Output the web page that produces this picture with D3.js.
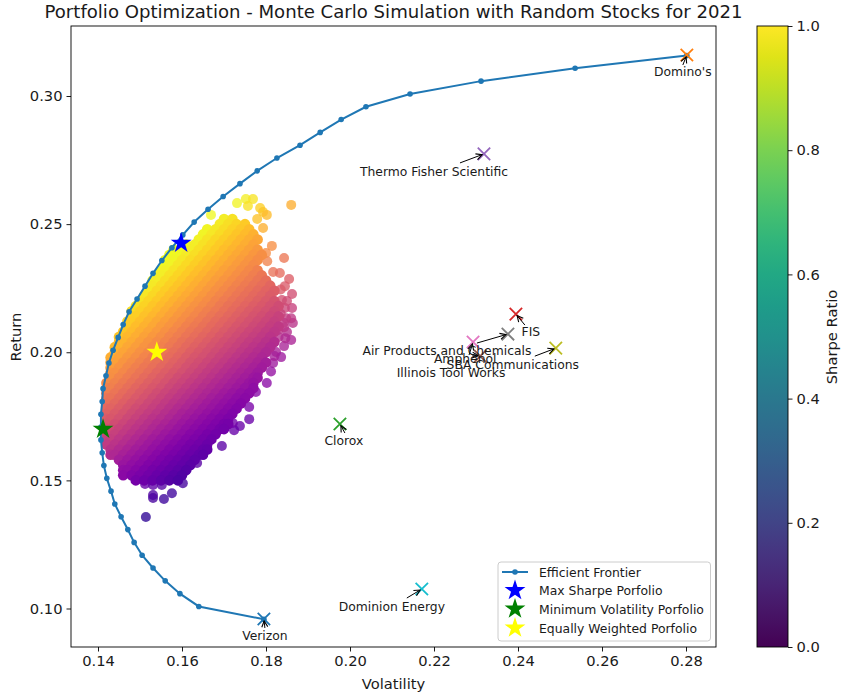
<!DOCTYPE html>
<html><head><meta charset="utf-8">
<script src="https://cdn.jsdelivr.net/npm/d3@7"></script>
<style>html,body{margin:0;padding:0;background:#fff}svg{display:block}text{font-family:"DejaVu Sans",sans-serif;fill:#1a1a1a}</style>
</head><body><div id="c"></div>
<script>
// ---------- data ----------
const frontierVol=[.1795,.1640,.1595,.1560,.1531,.1505,.1486,.1471,.1455,.1440,.1431,.1421,.1414,.1410,.1407,.1407,.1407,.1410,.1412,.1419,.1426,.1436,.1448,.1460,.1474,.1493,.1512,.1531,.1552,.1576,.1602,.1629,.1662,.1698,.1738,.1779,.1826,.1881,.1929,.1979,.2038,.2143,.2312,.2536,.2802];
const frontierRet=[.0958,.1008,.1058,.1108,.1158,.1208,.1258,.1308,.1358,.1408,.1458,.1508,.1558,.1608,.1658,.1708,.1758,.1808,.1858,.1908,.1958,.2008,.2058,.2108,.2158,.2208,.2258,.2308,.2358,.2408,.2458,.2508,.2558,.2608,.2658,.2708,.2758,.2808,.2858,.2908,.2958,.3008,.3058,.3108,.3158];
const stockNames=["Verizon","Domino's","Clorox","FIS","Thermo Fisher Scientific","Amphenol","Illinois Tool Works","Air Products and Chemicals","SBA Communications","Dominion Energy"];
const stockVol=[.1795,.2802,.1976,.2395,.2319,.2310,.2293,.2376,.2490,.2171];
const stockRet=[.0959,.3160,.1720,.2149,.2774,.1985,.2040,.2071,.2016,.1076];
const specialNames=["Max Sharpe Porfolio","Minimum Volatility Porfolio","Equally Weighted Porfolio"];
const specialVol=[.1598,.1412,.1540];
const specialRet=[.2426,.1700,.2000];
const frontierName="Efficient Frontier";
const xTicks=[.14,.16,.18,.20,.22,.24,.26,.28];
const yTicks=[.10,.15,.20,.25,.30];
const cbarTicks=[0,.2,.4,.6,.8,1];
// simulated portfolios: return of each row, with the volatilities (in thousandths) seen on it
const cloudRet=[.252,.250,.248,.246,.244,.242,.240,.238,.236,.234,.232,.230,.228,.226,.224,.222,.220,.218,.216,.214,.212,.210,.208,.206,.204,.202,.200,.198,.196,.194,.192,.190,.188,.186,.184,.182,.180,.178,.176,.174,.172,.170,.168,.166,.164,.162,.160,.158,.156,.154,.152,.150];
const cloudVolMilli=[
[170,172],
[169,171,173,175],
[166,168,170,172,174,176],
[165,167,169,171,173,175,177],
[164,166,168,170,172,174,176,178],
[161,163,165,167,169,171,173,175,177],
[158,160,162,164,166,168,170,172,174,176,178],
[157,159,161,163,165,167,169,171,173,175,177,179],
[156,158,160,162,164,166,168,170,172,174,176,178],
[156,157,159,161,163,165,167,169,171,173,175,177],
[155,156,158,160,162,164,166,168,170,172,174,176,178],
[154,155,157,159,161,163,165,167,169,171,173,175,177,179],
[153,154,156,158,160,162,164,166,168,170,172,174,176,178,180],
[153,155,157,159,161,163,165,167,169,171,173,175,177,179,181],
[152,154,156,158,160,162,164,166,168,170,172,174,176,178,180,182],
[151,153,155,157,159,161,163,165,167,169,171,173,175,177,179,181],
[150,152,154,156,158,160,162,164,166,168,170,172,174,176,178,180,182],
[149,151,153,155,157,159,161,163,165,167,169,171,173,175,177,179,181,183],
[148,150,152,154,156,158,160,162,164,166,168,170,172,174,176,178,180,182],
[148,149,151,153,155,157,159,161,163,165,167,169,171,173,175,177,179,181,183],
[147,148,150,152,154,156,158,160,162,164,166,168,170,172,174,176,178,180,182],
[147,149,151,153,155,157,159,161,163,165,167,169,171,173,175,177,179,181,183],
[146,148,150,152,154,156,158,160,162,164,166,168,170,172,174,176,178,180,182],
[145,147,149,151,153,155,157,159,161,163,165,167,169,171,173,175,177,179,181],
[145,146,148,150,152,154,156,158,160,162,164,166,168,170,172,174,176,178,180,182],
[144,145,147,149,151,153,155,157,159,161,163,165,167,169,171,173,175,177,179,181],
[144,146,148,150,152,154,156,158,160,162,164,166,168,170,172,174,176,178,180],
[143,145,147,149,151,153,155,157,159,161,163,165,167,169,171,173,175,177,179],
[143,144,146,148,150,152,154,156,158,160,162,164,166,168,170,172,174,176,178,180],
[143,145,147,149,151,153,155,157,159,161,163,165,167,169,171,173,175,177,179],
[143,144,146,148,150,152,154,156,158,160,162,164,166,168,170,172,174,176,178],
[143,145,147,149,151,153,155,157,159,161,163,165,167,169,171,173,175,177,178],
[142,144,146,148,150,152,154,156,158,160,162,164,166,168,170,172,174,176,177],
[142,143,145,147,149,151,153,155,157,159,161,163,165,167,169,171,173,175,177],
[142,144,146,148,150,152,154,156,158,160,162,164,166,168,170,172,174,176],
[142,143,145,147,149,151,153,155,157,159,161,163,165,167,169,171,173,175],
[142,144,146,148,150,152,154,156,158,160,162,164,166,168,170,172,174],
[142,143,145,147,149,151,153,155,157,159,161,163,165,167,169,171,173],
[142,144,146,148,150,152,154,156,158,160,162,164,166,168,170,172],
[142,143,145,147,149,151,153,155,157,159,161,163,165,167,169,171],
[142,144,146,148,150,152,154,156,158,160,162,164,166,168,170,171],
[142,143,145,147,149,151,153,155,157,159,161,163,165,167,169,170],
[142,144,146,148,150,152,154,156,158,160,162,164,166,168],
[142,143,145,147,149,151,153,155,157,159,161,163,165,167],
[142,144,146,148,150,152,154,156,158,160,162,164,166],
[143,145,147,149,151,153,155,157,159,161,163,165,166],
[143,144,146,148,150,152,154,156,158,160,162,164,165],
[145,147,149,151,153,155,157,159,161,163],
[146,148,150,152,154,156,158,160,162],
[146,147,149,151,153,155,157,159,161],
[146,148,150,152,154,156,158,160],
[149,151,153,155,157,159]
];
// the scattered portfolios around the dense body
const outlierVol=[.1860,.1731,.1752,.1769,.1757,.1786,.1793,.1802,.1669,.1779,.1793,.1814,.1800,.1843,.1817,.1833,.1855,.1862,.1862,.1864,.1514,.1531,.1557,.1576,.1531,.1552,.1512,.1531,.1602,.1636,.1695,.1660,.1760,.1738,.1724,.1721,.1802,.1776,.1760,.1845,.1838,.1845,.1860,.1850,.1860,.1843,.1824,.1836,.1817,.1829,.1848,.1843,.1803,.1835,.1850,.1835,.1842,.1830,.1846,.1820,.1812];
const outlierRet=[.2575,.2582,.2598,.2598,.2571,.2563,.2547,.2536,.2536,.2520,.2485,.2415,.2387,.2368,.2313,.2309,.2286,.2227,.2173,.2114,.1357,.1431,.1427,.1450,.1443,.1482,.1486,.1482,.1489,.1568,.1634,.1626,.1739,.1712,.1696,.1724,.1880,.1845,.1786,.2258,.2204,.2173,.2133,.2079,.2048,.2024,.2001,.1981,.1958,.2087,.2133,.2098,.2355,.2245,.2200,.2150,.2115,.2060,.2055,.1985,.1925];

// ---------- layout ----------
const W=842,H=697,L=71,R=716,T=26,B=647,cbL=757,cbR=788;
const stockColors=["#1f77b4","#ff7f0e","#2ca02c","#d62728","#9467bd","#8c564b","#e377c2","#7f7f7f","#bcbd22","#17becf"];
const specialColors=["#0000ff","#008000","#ffff00"];
const labelDx=[1,-4,4,15,-50,-15,-22,-61,-43,-30];
const labelDy=[17,17,17,18,18,3,31,17,17,18];
const arrowDx=[1,-4,5,9,-24,-8,-4,-31,-21,-15];
const arrowDy=[9,10,9,11,9,-1,13,9,8,9];

const x=d3.scaleLinear().domain([.14,.28]).range([98,686]);
const y=d3.scaleLinear().domain([.10,.30]).range([608.5,96]);
const cb=d3.scaleLinear().domain([0,1]).range([B,T]);
const sharpeColor=d3.scaleSequential(d3.interpolatePlasma).domain([.86,1.50]).clamp(true);

const svg=d3.select("#c").append("svg").attr("width",W).attr("height",H);
const defs=svg.append("defs");
defs.append("clipPath").attr("id","plot").append("rect").attr("x",L).attr("y",T).attr("width",R-L).attr("height",B-T);
defs.append("marker").attr("id","arrow").attr("viewBox","-8 -5 9 10").attr("refX",0).attr("refY",0)
  .attr("markerWidth",9).attr("markerHeight",10).attr("markerUnits","userSpaceOnUse").attr("orient","auto")
  .append("path").attr("d","M-6,-3L0,0L-6,3").attr("fill","none").attr("stroke","#000").attr("stroke-width",1.1);
const grad=defs.append("linearGradient").attr("id","vir").attr("x1",0).attr("x2",0).attr("y1",1).attr("y2",0);
d3.range(0,1.001,.05).forEach(t=>grad.append("stop").attr("offset",t).attr("stop-color",d3.interpolateViridis(t)));

const plot=svg.append("g").attr("clip-path","url(#plot)");

// cloud
const cloud=[];
cloudRet.forEach((r,i)=>cloudVolMilli[i].forEach(v=>cloud.push({v:v/1000,r})));
plot.append("g").selectAll("circle").data(outlierVol.map((v,i)=>({v,r:outlierRet[i]}))).join("circle")
  .attr("cx",d=>x(d.v)).attr("cy",d=>y(d.r)).attr("r",5)
  .attr("fill",d=>sharpeColor(d.r/d.v)).attr("opacity",.78);
plot.append("g").selectAll("circle").data(cloud).join("circle")
  .attr("cx",d=>x(d.v)).attr("cy",d=>y(d.r)).attr("r",5.3)
  .attr("fill",d=>sharpeColor(d.r/d.v));

// frontier
const line=d3.line().x((d,i)=>x(frontierVol[i])).y((d,i)=>y(frontierRet[i]));
plot.append("path").datum(frontierVol).attr("d",line).attr("fill","none").attr("stroke","#1f77b4").attr("stroke-width",2);
plot.append("g").selectAll("circle").data(frontierVol).join("circle")
  .attr("cx",(d,i)=>x(d)).attr("cy",(d,i)=>y(frontierRet[i])).attr("r",2.8).attr("fill","#1f77b4");

// stock crosses
svg.append("g").selectAll("path").data(stockVol).join("path")
  .attr("d",d3.symbol().type({draw(c){c.moveTo(-6.2,-6.2);c.lineTo(6.2,6.2);c.moveTo(-6.2,6.2);c.lineTo(6.2,-6.2);}}))
  .attr("transform",(d,i)=>`translate(${x(d)},${y(stockRet[i])})`)
  .attr("fill","none").attr("stroke",(d,i)=>stockColors[i]).attr("stroke-width",1.8);

// annotations
svg.append("g").selectAll("line").data(stockNames).join("line")
  .attr("x1",(d,i)=>x(stockVol[i])+arrowDx[i]).attr("y1",(d,i)=>y(stockRet[i])+arrowDy[i])
  .attr("x2",(d,i)=>{const h=Math.hypot(arrowDx[i],arrowDy[i]);return x(stockVol[i])+arrowDx[i]/h*2;})
  .attr("y2",(d,i)=>{const h=Math.hypot(arrowDx[i],arrowDy[i]);return y(stockRet[i])+arrowDy[i]/h*2;})
  .attr("stroke","#000").attr("stroke-width",1).attr("marker-end","url(#arrow)");
svg.append("g").selectAll("text").data(stockNames).join("text")
  .attr("x",(d,i)=>x(stockVol[i])+labelDx[i]).attr("y",(d,i)=>y(stockRet[i])+labelDy[i])
  .attr("text-anchor","middle").attr("dominant-baseline","central").attr("font-size",12.35).text(d=>d);

// stars
const star=d3.symbol().type(d3.symbolStar).size(135);
svg.append("g").selectAll("path").data(specialVol).join("path")
  .attr("d",star).attr("transform",(d,i)=>`translate(${x(d)},${y(specialRet[i])})`)
  .attr("fill",(d,i)=>specialColors[i]);

// frame + axes
svg.append("rect").attr("x",L).attr("y",T).attr("width",R-L).attr("height",B-T).attr("fill","none").attr("stroke","#000").attr("stroke-width",.9);
const fmt2=d3.format(".2f");
const ax=svg.append("g").attr("transform",`translate(0,${B})`).call(d3.axisBottom(x).tickValues(xTicks).tickFormat(fmt2).tickSize(4.5).tickPadding(4));
const ay=svg.append("g").attr("transform",`translate(${L},0)`).call(d3.axisLeft(y).tickValues(yTicks).tickFormat(fmt2).tickSize(4.5).tickPadding(4));
[ax,ay].forEach(a=>{a.select(".domain").remove();a.selectAll("text").attr("font-size",14.7).attr("font-family","DejaVu Sans").style("fill","#1a1a1a");a.selectAll("line").attr("stroke-width",.9);});

svg.append("text").attr("x",393.5).attr("y",18).attr("text-anchor","middle").attr("font-size",18.1).text("Portfolio Optimization - Monte Carlo Simulation with Random Stocks for 2021");
svg.append("text").attr("x",393.5).attr("y",689).attr("text-anchor","middle").attr("font-size",14.7).text("Volatility");
svg.append("text").attr("transform","translate(21,337) rotate(-90)").attr("text-anchor","middle").attr("font-size",14.7).text("Return");

// colorbar
svg.append("rect").attr("x",cbL).attr("y",T).attr("width",cbR-cbL).attr("height",B-T).attr("fill","url(#vir)").attr("stroke","#000").attr("stroke-width",.9);
const ac=svg.append("g").attr("transform",`translate(${cbR},0)`).call(d3.axisRight(cb).tickValues(cbarTicks).tickFormat(d3.format(".1f")).tickSize(4.5).tickPadding(4));
ac.select(".domain").remove();
ac.selectAll("text").attr("font-size",14.7).attr("font-family","DejaVu Sans").style("fill","#1a1a1a");
ac.selectAll("line").attr("stroke-width",.9);
svg.append("text").attr("transform","translate(837,337) rotate(-90)").attr("text-anchor","middle").attr("font-size",14.7).text("Sharpe Ratio");

// legend
const lg=svg.append("g");
lg.append("rect").attr("x",498).attr("y",562).attr("width",212.5).attr("height",79).attr("rx",3).attr("fill","#fff").attr("fill-opacity",.85).attr("stroke","#ccc").attr("stroke-width",1);
const rowY=[572,590.5,609,628];
[frontierName,...specialNames].forEach((n,i)=>lg.append("text").attr("x",539).attr("y",rowY[i]).attr("dominant-baseline","central").attr("font-size",12.4).text(n));
lg.append("line").attr("x1",502).attr("x2",528).attr("y1",rowY[0]).attr("y2",rowY[0]).attr("stroke","#1f77b4").attr("stroke-width",2);
lg.append("circle").attr("cx",515).attr("cy",rowY[0]).attr("r",2.8).attr("fill","#1f77b4");
specialColors.forEach((c,i)=>lg.append("path").attr("d",star).attr("transform",`translate(515,${rowY[i+1]})`).attr("fill",c));
</script></body></html>
